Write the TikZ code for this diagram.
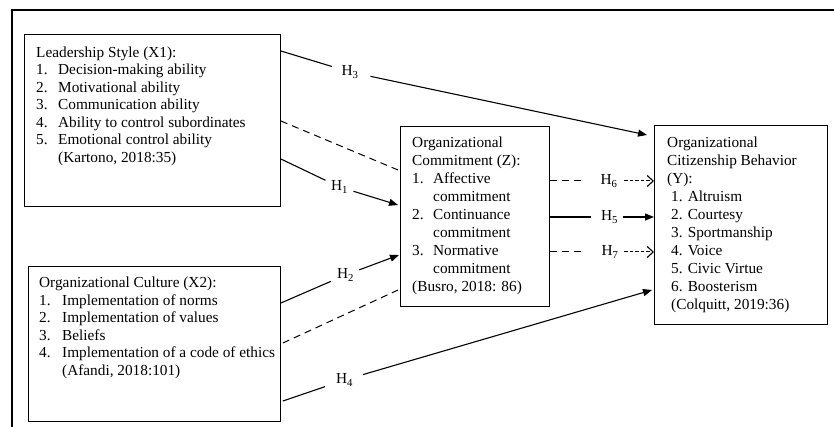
\documentclass[tikz,border=0pt]{standalone}
\usepackage{fontspec}
\setmainfont{Liberation Serif}
\usetikzlibrary{arrows.meta,calc}
\begin{document}
\begin{tikzpicture}[x=1pt,y=-1pt,
  box/.style={draw, line width=0.9pt, anchor=north west, inner sep=0pt},
  txt/.style={anchor=base west, inner sep=0pt, align=left},
  fa/.style={font=\fontsize{15.3}{17.5}\selectfont},
  fb/.style={font=\fontsize{15.3}{18}\selectfont},
  hl/.style={inner sep=0pt, font=\fontsize{15.3}{17.5}\selectfont},
  conn/.style={line width=1.1pt},
  solidarrow/.style={conn, -{Triangle[length=9pt,width=7pt]}},
  openarrow/.style={line width=1pt, dash pattern=on 3.5pt off 2pt, -{Straight Barb[length=6pt,width=11pt,line width=1.1pt]}},
  longdash/.style={line width=1pt, dash pattern=on 7pt off 5pt}
]
\useasboundingbox (0,0) rectangle (834,427);
% outer frame (only top and left visible)
\draw[line width=2pt] (12,427) -- (12,10) -- (834,10);

% boxes
\node[box, minimum width=256pt, minimum height=172pt] (lead) at (24,34) {};
\node[box, minimum width=252pt, minimum height=155pt] (cult) at (28,266) {};
\node[box, minimum width=149pt, minimum height=180pt] (comm) at (400,126) {};
\node[box, minimum width=173pt, minimum height=199pt] (ocb) at (654,125) {};

% texts
\node[txt, fa] (leadtxt) at (36,57.5) {\begin{tabular}[t]{@{}p{22pt}@{}l@{}}
\multicolumn{2}{@{}l@{}}{Leadership Style (X1):}\\
1. & Decision-making ability\\
2. & Motivational ability\\
3. & Communication ability\\
4. & Ability to control subordinates\\
5. & Emotional control ability\\
 & (Kartono, 2018:35)
\end{tabular}};

\node[txt, fa] (culttxt) at (39,287.5) {\begin{tabular}[t]{@{}p{23pt}@{}l@{}}
\multicolumn{2}{@{}l@{}}{Organizational Culture (X2):}\\
1. & Implementation of norms\\
2. & Implementation of values\\
3. & Beliefs\\
4. & Implementation of a code of ethics\\
 & (Afandi, 2018:101)
\end{tabular}};

\node[txt, fb] (commtxt) at (412,148) {\begin{tabular}[t]{@{}p{21pt}@{}l@{}}
\multicolumn{2}{@{}l@{}}{Organizational}\\
\multicolumn{2}{@{}l@{}}{Commitment (Z):}\\
1. & Affective\\
 & commitment\\
2. & Continuance\\
 & commitment\\
3. & Normative\\
 & commitment\\
\multicolumn{2}{@{}l@{}}{(Busro, 2018: 86)}
\end{tabular}};

\node[txt, fb] (ocbtxt) at (667,148) {\begin{tabular}[t]{@{}p{4pt}@{}l@{}}
\multicolumn{2}{@{}l@{}}{Organizational}\\
\multicolumn{2}{@{}l@{}}{Citizenship Behavior}\\
\multicolumn{2}{@{}l@{}}{(Y):}\\
 & 1. Altruism\\
 & 2. Courtesy\\
 & 3. Sportmanship\\
 & 4. Voice\\
 & 5. Civic Virtue\\
 & 6. Boosterism\\
 & (Colquitt, 2019:36)
\end{tabular}};

% connection points
\coordinate (a3) at ([yshift=-17pt]lead.north east);
\coordinate (ad) at ([yshift=-87pt]lead.north east);
\coordinate (a1) at ([yshift=-125pt]lead.north east);
\coordinate (b2) at ([yshift=-37pt]cult.north east);
\coordinate (bd) at ([xshift=2pt,yshift=-77pt]cult.north east);
\coordinate (b4) at ([xshift=2pt,yshift=-135pt]cult.north east);
\coordinate (c1) at ([xshift=-2pt,yshift=-79pt]comm.north west);
\coordinate (cd1) at ([xshift=-2pt,yshift=-44pt]comm.north west);
\coordinate (c2) at ([xshift=-1pt,yshift=-129pt]comm.north west);
\coordinate (cd2) at ([xshift=-2pt,yshift=-164pt]comm.north west);
\coordinate (e6) at ([yshift=-55pt]comm.north east);
\coordinate (e5) at ([yshift=-91pt]comm.north east);
\coordinate (e7) at ([yshift=-126pt]comm.north east);
\coordinate (o3) at ([xshift=-7pt,yshift=-10pt]ocb.north west);
\coordinate (o6) at ([yshift=-56pt]ocb.north west);
\coordinate (o5) at ([yshift=-92pt]ocb.north west);
\coordinate (o7) at ([yshift=-127pt]ocb.north west);
\coordinate (o4) at ([xshift=-2pt,yshift=-165pt]ocb.north west);

% hypothesis labels
\node[hl] (h3) at (350,72) {H\textsubscript{3}};
\node[hl] (h1) at (339.5,187) {H\textsubscript{1}};
\node[hl] (h2) at (345.5,275) {H\textsubscript{2}};
\node[hl] (h4) at (344.5,380) {H\textsubscript{4}};
\node[hl] (h6) at (609,181) {H\textsubscript{6}};
\node[hl] (h5) at (609.5,217) {H\textsubscript{5}};
\node[hl] (h7) at (610,252) {H\textsubscript{7}};

% connectors
\draw[conn, shorten >=10pt] (a3) -- (h3);
\draw[solidarrow, shorten <=12pt] (h3) -- (o3);
\draw[conn, shorten >=6pt] (a1) -- (h1);
\draw[solidarrow, shorten <=5.5pt] (h1) -- (c1);
\draw[conn, shorten >=6.5pt] (b2) -- (h2);
\draw[solidarrow, shorten <=5.5pt] (h2) -- (c2);
\draw[conn, shorten >=11.5pt] (b4) -- (h4);
\draw[solidarrow, shorten <=10.5pt] (h4) -- (o4);
\draw[longdash] (ad) -- (cd1);
\draw[longdash] (bd) -- (cd2);
\draw[longdash, shorten >=14.5pt] (e6) -- (h6);
\draw[openarrow, shorten <=6.5pt] (h6) -- (o6);
\draw[conn, shorten >=10pt] (e5) -- (h5);
\draw[solidarrow, shorten <=5pt] (h5) -- (o5);
\draw[longdash, shorten >=15.5pt] (e7) -- (h7);
\draw[openarrow, shorten <=5.5pt] (h7) -- (o7);
\end{tikzpicture}
\end{document}
